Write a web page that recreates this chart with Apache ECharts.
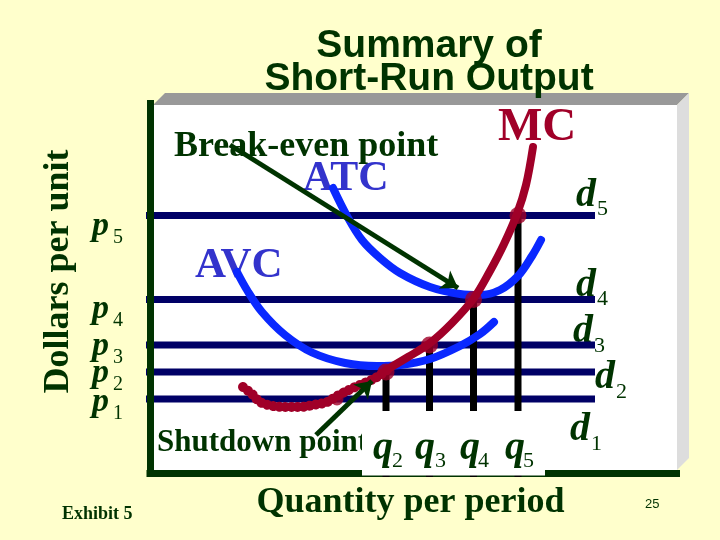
<!DOCTYPE html>
<html><head><meta charset="utf-8">
<script src="https://cdn.jsdelivr.net/npm/echarts@6/dist/echarts.min.js"></script>
<style>html,body{margin:0;padding:0;background:#FFFFCC}#c{width:720px;height:540px}</style>
</head><body><div id="c"></div>
<script>
// ---- data (chart units: quantity per period / dollars per unit) ----
const priceNames = ['p1', 'p2', 'p3', 'p4', 'p5'];
const prices = [14.9, 20.3, 25.7, 34.8, 51.6];
const demandNames = ['d1', 'd2', 'd3', 'd4', 'd5'];
const demandRange = [-1.5, 89];
const qNames = ['q2', 'q3', 'q4', 'q5'];
const quantities = [47.2, 55.9, 64.7, 73.6];
const shutdownBead = [37.4, 14.9];
const mcUpper = [[47.2, 20.7], [51.6, 23.3], [56.0, 26.1], [60.4, 30.1], [64.8, 35.1], [68.0, 40.5], [70.8, 45.9], [73.4, 51.9], [75.2, 57.7], [76.6, 65.3]];
const mcLower = [[18.6, 17.3], [20.4, 15.9], [22.0, 14.3], [24.6, 13.5], [27.4, 13.3], [30.0, 13.3], [32.6, 13.7], [35.4, 14.3], [37.4, 15.5], [40.6, 17.1], [43.4, 18.3], [45.4, 19.3], [47.4, 20.7]];
const avc = [[17.4, 40.3], [19.4, 36.7], [22.4, 32.3], [27.0, 27.7], [32.4, 24.2], [39.0, 22.1], [45.4, 21.5], [50.0, 21.7], [56.0, 22.9], [62.0, 25.5], [66.0, 27.9], [68.8, 30.3]];
const atc = [[36.6, 57.1], [39.4, 51.5], [42.4, 46.7], [46.0, 43.1], [50.0, 40.1], [56.0, 37.3], [62.0, 35.9], [66.0, 35.7], [70.0, 36.7], [73.6, 39.5], [76.4, 43.5], [78.2, 46.7]];
const breakEvenArrow = [[16.0, 65.7], [61.6, 37.1]];
const shutdownArrow = [[33.2, 7.7], [44.4, 18.5]];

// ---- styling ----
const GREEN = '#003300', NAVY = '#000066', RED = '#A00028', BLUE = '#0A28FF', LBLUE = '#3333CC';
const SERIF = '"Liberation Serif", "Times New Roman", serif';
const SANS = '"Liberation Sans", Arial, sans-serif';
const MID = 0.25; // baseline offset below text middle, in em

const chart = echarts.init(document.getElementById('c'), null, { renderer: 'canvas', width: 720, height: 540 });

function txt(text, x, base, size, font, fill, z, align) {
  return { type: 'text', x: x, y: base - MID * size, z: z, silent: true,
    style: { text: text, font: font, fill: fill, align: align || 'left', verticalAlign: 'middle' } };
}
function subLabel(name, x, base, subX, subBase, size, subSize, z) {
  return [
    txt(name.charAt(0), x, base, size, 'italic bold ' + size + 'px ' + SERIF, GREEN, z),
    txt(name.slice(1), subX, subBase, subSize, subSize + 'px ' + SERIF, GREEN, z)
  ];
}

const graphics = [];
// panel with bevel
graphics.push({ type: 'polygon', z: 0, silent: true, shape: { points: [[153, 105], [165, 93], [689, 93], [677, 105]] }, style: { fill: '#999999' } });
graphics.push({ type: 'polygon', z: 0, silent: true, shape: { points: [[677, 105], [689, 93], [689, 458], [677, 470]] }, style: { fill: '#DDDDDD' } });
graphics.push({ type: 'rect', z: 0, silent: true, shape: { x: 153, y: 105, width: 524, height: 366 }, style: { fill: '#FFFFFF' } });
// title
graphics.push(txt('Summary of', 429, 56, 39, 'bold 39px ' + SANS, GREEN, 1, 'center'));
graphics.push(txt('Short-Run Output', 429, 89, 39, 'bold 39px ' + SANS, GREEN, 1, 'center'));
// annotations
graphics.push(txt('Break-even point', 174, 156, 36, 'bold 36px ' + SERIF, GREEN, 3));
graphics.push(txt('MC', 498, 140, 47, 'bold 47px ' + SERIF, RED, 3));
graphics.push(txt('ATC', 303, 189.5, 42, 'bold 42px ' + SERIF, LBLUE, 3));
graphics.push(txt('AVC', 195, 277, 43, 'bold 43px ' + SERIF, LBLUE, 3));
graphics.push(txt('Shutdown point', 157, 451, 31, 'bold 31px ' + SERIF, GREEN, 3));
graphics.push({ type: 'text', x: 59, y: 271.5, rotation: Math.PI / 2, z: 3, silent: true,
  style: { text: 'Dollars per unit', font: 'bold 36px ' + SERIF, fill: GREEN, align: 'center', verticalAlign: 'middle' } });
graphics.push(txt('Quantity per period', 410.5, 512, 36, 'bold 36px ' + SERIF, GREEN, 3, 'center'));
graphics.push(txt('Exhibit 5', 62, 519, 18, 'bold 18px ' + SERIF, GREEN, 3));
graphics.push(txt('25', 645, 508, 13, '13px "Liberation Sans Narrow", ' + SANS, GREEN, 3));
// white label box over the quantity axis
graphics.push({ type: 'rect', z: 10, silent: true, shape: { x: 362, y: 411, width: 183, height: 64.5 }, style: { fill: '#FFFFFF' } });
// price labels
const pBase = [411, 382, 355, 318, 235];
priceNames.forEach((n, i) => graphics.push(...subLabel(n, 92, pBase[i], 113, pBase[i] + 8, 34, 20, 3)));
// demand labels
const dPos = [[570, 440, 591, 450], [595, 388, 616, 398], [573, 342, 594, 352], [576, 296, 597, 305], [576, 206, 597, 215]];
demandNames.forEach((n, i) => graphics.push(...subLabel(n, dPos[i][0], dPos[i][1], dPos[i][2], dPos[i][3], 40, 22, 3)));
// quantity labels
const qX = [[373, 392], [415, 435], [460, 478], [505, 523]];
qNames.forEach((n, i) => graphics.push(...subLabel(n, qX[i][0], 459, qX[i][1], 467, 40, 22, 11)));

const series = [];
prices.forEach((p, i) => series.push({
  type: 'line', name: demandNames[i], data: [[demandRange[0], p], [demandRange[1], p]], symbol: 'none', clip: false,
  lineStyle: { color: NAVY, width: 7, cap: 'butt' }, z: 7, silent: true, animation: false
}));
quantities.forEach((q, i) => series.push({
  type: 'line', name: qNames[i], data: [[q, prices[i + 1]], [q, 0]], symbol: 'none', clip: false,
  lineStyle: { color: '#000000', width: 7, cap: 'square' }, z: 9, silent: true, animation: false
}));
const curve = { type: 'line', smooth: 0.35, symbol: 'none', clip: false, z: 12, animation: false, silent: true };
series.push(Object.assign({}, curve, { name: 'ATC', data: atc, lineStyle: { color: BLUE, width: 8, cap: 'round' } }));
series.push(Object.assign({}, curve, { name: 'AVC', data: avc, lineStyle: { color: BLUE, width: 8, cap: 'round' } }));
series.push(Object.assign({}, curve, { name: 'MC', data: mcUpper, lineStyle: { color: RED, width: 8, cap: 'round' } }));
series.push(Object.assign({}, curve, { name: 'MC below AVC', data: mcLower,
  lineStyle: { color: RED, width: 10, cap: 'round', type: [0.1, 6] } }));
series.push({ type: 'scatter', name: 'MC = P', data: quantities.map((q, i) => [q, prices[i + 1]]), symbol: 'circle', symbolSize: 17,
  itemStyle: { color: RED }, z: 13, animation: false, silent: true });
series.push({ type: 'scatter', name: 'bead', data: [shutdownBead], symbol: 'circle', symbolSize: 13,
  itemStyle: { color: RED }, z: 13, animation: false, silent: true });
series.push({ type: 'lines', coordinateSystem: 'cartesian2d', data: [{ coords: breakEvenArrow }, { coords: shutdownArrow }],
  symbol: ['none', 'arrow'], symbolSize: 16, lineStyle: { color: GREEN, width: 5, opacity: 1, curveness: 0 }, z: 14, animation: false, silent: true });

chart.setOption({
  backgroundColor: '#FFFFCC',
  animation: false,
  grid: { left: 150, top: 103.5, width: 526.5, height: 370, containLabel: false },
  xAxis: { type: 'value', min: 0, max: 105.3, z: 8,
    axisLine: { show: true, onZero: false, lineStyle: { color: GREEN, width: 7, cap: 'square' } },
    axisTick: { show: false }, axisLabel: { show: false }, splitLine: { show: false } },
  yAxis: { type: 'value', min: 0, max: 74, z: 8,
    axisLine: { show: true, onZero: false, lineStyle: { color: GREEN, width: 7, cap: 'square' } },
    axisTick: { show: false }, axisLabel: { show: false }, splitLine: { show: false } },
  graphic: { elements: graphics },
  series: series
});
</script></body></html>
